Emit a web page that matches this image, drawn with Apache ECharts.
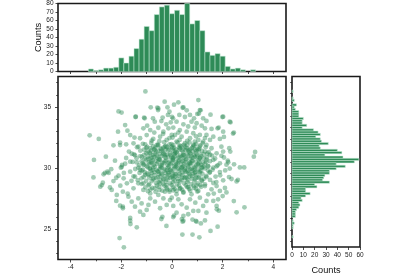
<!DOCTYPE html>
<html><head><meta charset="utf-8">
<script src="https://cdn.jsdelivr.net/npm/echarts@6/dist/echarts.min.js"></script>
<style>html,body{margin:0;padding:0;background:#fff}#c{width:400px;height:280px}</style>
</head><body><div id="c"></div>
<script>
// ---- DATA ----
const histXCenters = [-3.2,-3.0,-2.8,-2.6,-2.4,-2.2,-2.0,-1.8,-1.6,-1.4,-1.2,-1.0,-0.8,-0.6,-0.4,-0.2,0.0,0.2,0.4,0.6,0.8,1.0,1.2,1.4,1.6,1.8,2.0,2.2,2.4,2.6,2.8,3.0,3.2];
const histXCounts  = [3,1,2,4,4,5,16,10,18,27,38,53,48,67,76,78,68,72,67,80,56,60,48,23,19,21,18,6,3,4,2,0,2];
const histYCenters = [36.2,36.0,35.8,35.6,35.4,35.2,35.0,34.8,34.6,34.4,34.2,34.0,33.8,33.6,33.4,33.2,33.0,32.8,32.6,32.4,32.2,32.0,31.8,31.6,31.4,31.2,31.0,30.8,30.6,30.4,30.2,30.0,29.8,29.6,29.4,29.2,29.0,28.8,28.6,28.4,28.2,28.0,27.8,27.6,27.4,27.2,27.0,26.8,26.6,26.4,26.2,26.0,25.8,25.6,25.4,25.2,25.0,24.8,24.6,24.4,24.2,24.0,23.8,23.6,23.4];
const histYCounts  = [1,0,0,1,2,0,4,2,3,6,6,6,10,9,9,13,9,19,23,25,21,25,26,32,24,25,40,44,29,45,59,55,39,47,39,33,33,29,28,27,33,20,22,12,12,16,12,8,9,6,7,6,4,3,3,3,0,1,2,1,1,0,0,0,1];
const binWidth = 0.2;
const xTickLabels = [-4,-2,0,2,4];
const yTickLabels = [25,30,35];
const countTicksTop = [0,10,20,30,40,50,60,70,80];
const countTicksRight = [0,10,20,30,40,50,60];
const points = [
[-1.05,36.28],[-0.29,35.44],[0.08,35.19],[0.25,35.38],[1.04,35.57],[-0.58,34.95],[-0.55,34.75],[-0.84,34.97],[0.45,34.97],[1.10,34.75],[1.0,34.43],[-2.11,34.64],[-1.99,34.54],[-1.43,34.21],[-1.08,34.07],[1.52,34.37],[2.02,34.21],[2.31,33.74],[-1.85,33.52],[-2.13,32.98],[-1.76,33.06],[-3.25,32.68],[-2.89,32.38],[-2.31,31.86],[-2.05,32.08],[-2.05,31.88],[2.44,32.9],[1.8,33.25],[3.28,31.31],[3.23,30.93],[-3.08,30.66],[-2.61,30.93],[-2.55,29.7],[-2.65,29.6],[-3.10,29.23],[-2.77,28.6],[-2.83,28.47],[2.85,30.05],[2.68,30.05],[2.6,29.02],[2.55,28.9],[2.86,26.78],[2.55,26.37],[1.80,25.19],[1.52,24.84],[1.08,24.32],[0.81,24.54],[0.41,24.54],[-2.07,24.26],[-1.90,23.5],[-1.39,25.14],[-1.64,25.41],[-1.65,25.68],[-0.22,25.25],[0.05,25.98],[-0.42,25.82],[-0.38,26.0],[0.97,25.6],[1.14,25.46],[0.42,25.6],[1.36,26.34],[1.77,26.61],[1.85,26.5],[-1.94,26.83],[-2.05,26.91],
[-0.54,34.88],[-0.18,34.97],[-0.1,34.61],[-1.44,34.18],[-1.1,34.13],[-0.75,34.07],[-0.37,34.13],[-0.16,34.35],[0.04,34.07],[-0.68,33.8],[-0.42,33.85],[-0.23,33.58],[-0.05,33.74],
[-1.13,33.25],[-0.98,33.47],[-0.86,33.11],[-0.54,33.3],[-0.34,32.98],[-0.14,33.25],[-1.65,32.7],[-1.48,32.49],[-1.26,32.44],[-1.0,32.7],[-0.74,32.38],[-0.47,32.57],[-0.21,32.3],[-0.01,32.71],[-1.81,31.94],[-1.52,32.02],[-1.33,31.75],[-1.06,31.94],[-0.86,31.62],[-0.6,31.89],[-0.34,31.67],[-0.1,31.94],[-1.98,30.1],[-1.81,30.82],[-1.59,31.17],[-1.65,30.52],[-1.46,31.04],[-1.39,30.46],[-1.19,30.9],[-1.13,30.25],[-0.93,30.74],[-0.8,30.38],[-0.67,31.17],[-0.47,30.68],[-0.28,31.09],[-0.14,30.41],[0.05,30.82],[-0.86,29.96],[-0.41,30.03],[-0.09,29.84],[-1.33,30.03],
[0.42,34.94],[0.58,34.73],[1.13,34.73],[1.06,34.46],[1.23,34.07],[1.99,34.18],[2.28,33.8],[2.41,32.82],[1.84,33.31],[2.02,32.98],[2.05,32.55],[1.89,32.38],[1.63,32.57],[1.5,32.3],[1.36,31.89],[1.56,31.62],[1.95,31.75],[2.26,31.62],[2.02,31.35],[1.76,31.2],[2.05,30.86],[2.22,30.47],[1.89,30.38],[1.63,30.66],
[0.0,34.18],[0.29,34.35],[0.51,34.18],[0.71,34.35],[0.87,34.07],[1.36,33.86],[0.77,33.8],[0.97,33.67],[1.17,33.47],[0.18,33.8],[0.45,33.58],[0.64,33.4],[0.9,33.31],[1.3,33.25],[1.56,33.2],[0.05,33.31],[0.31,33.11],[0.58,32.98],[0.84,32.85],[1.1,32.71],[1.36,32.71],[0.12,32.71],[0.38,32.57],[0.71,32.44],[1.04,32.3],[1.23,32.17],[0.18,32.17],[0.51,32.03],[0.84,31.89],[1.1,31.75],[-0.01,31.75],[0.31,31.62],[0.64,31.49],[0.97,31.4],[1.3,31.35],[1.5,31.08],[0.12,31.2],[0.45,31.08],[0.77,30.95],[1.1,30.82],[1.36,30.68],[0.05,30.68],[0.38,30.55],[0.71,30.41],[1.04,30.27],[1.43,30.14],[1.76,30.14],[2.15,30.27],[0.18,30.14],[0.51,30.0],
[-2.7,29.48],[-2.73,28.8],[-2.02,30.03],[-1.97,30.25],[-2.31,28.93],[-2.11,29.37],[-1.91,29.15],[-2.04,28.55],[-1.78,28.74],[-2.38,28.2],[-2.18,27.79],[-1.94,28.06],[-1.72,27.65],[-1.94,26.7],[-1.65,25.9],[-1.59,27.24],[-1.46,26.83],[-1.26,26.42],[-1.13,26.15],[-1.0,26.56],[-1.33,27.51],[-1.2,27.1],[-0.93,26.97],[-0.86,27.51],[-0.67,27.24],[-0.47,26.7],[-0.21,26.97],[-0.34,27.51],[-0.08,27.37],[-1.52,28.33],[-1.33,28.74],[-1.13,28.2],[-0.93,28.6],[-0.86,27.92],[-0.67,28.33],[-0.54,27.79],[-0.28,28.06],[-0.09,28.2],[-1.65,29.7],[-1.46,29.29],[-1.26,29.84],[-1.06,29.43],[-0.73,29.15],[-0.54,29.7],[-0.34,29.02],[-0.14,29.56],[0.05,29.15],[-1.13,28.74],[-0.47,28.74],[-0.21,28.6],
[2.44,27.29],[1.3,25.7],[0.94,25.66],[0.81,25.77],[0.45,25.68],[0.39,25.81],[0.08,26.1],[1.76,26.89],[1.63,27.3],[1.82,27.43],[1.89,28.12],[1.76,28.52],[2.09,28.36],[2.25,29.26],[2.02,28.99],[2.28,29.95],[1.89,29.67],[1.36,27.3],[1.23,26.89],[1.04,26.48],[0.84,26.48],[0.58,26.75],[0.64,26.21],[0.45,26.07],[0.18,26.34],[0.92,27.16],[0.71,27.43],[0.38,27.02],[0.25,27.43],[0.05,26.89],[1.1,27.57],[1.43,27.84],[1.56,28.25],[1.63,28.77],[1.3,28.52],[1.04,28.12],[0.77,27.84],[0.45,27.98],[0.18,27.84],[-0.01,27.57],[1.36,29.26],[1.5,29.67],[1.17,28.99],[0.97,28.58],[0.64,28.44],[0.31,28.3],[0.05,28.16],[0.9,29.62],[0.58,29.2],[0.25,28.93],[0.05,29.34],[0.71,29.89],[0.38,30.03],[1.17,30.03],[1.63,30.03],
[-1.15,31.98],[-0.82,32.05],[-0.55,31.92],[-0.31,32.12],[-0.02,31.96],[0.22,32.08],[0.47,31.9],[0.69,32.1],[0.95,31.97],[1.21,32.04],
[-1.38,31.7],[-1.02,31.65],[-0.74,31.78],[-0.45,31.6],[-0.2,31.72],[0.08,31.66],[0.35,31.8],[0.58,31.62],[0.83,31.74],[1.07,31.58],[1.33,31.71],
[-1.25,31.42],[-0.96,31.35],[-0.7,31.48],[-0.41,31.38],[-0.15,31.46],[0.12,31.33],[0.4,31.44],[0.66,31.36],[0.91,31.5],[1.18,31.4],[1.45,31.3],
[-1.5,31.12],[-1.1,31.08],[-0.85,31.18],[-0.6,31.02],[-0.33,31.15],[-0.05,31.05],[0.2,31.2],[0.46,31.06],[0.73,31.16],[0.99,31.03],[1.26,31.14],[1.58,31.02],
[-1.4,30.8],[-1.08,30.75],[-0.78,30.86],[-0.52,30.72],[-0.25,30.84],[0.03,30.78],[0.3,30.88],[0.55,30.74],[0.82,30.83],[1.1,30.76],[1.38,30.86],[1.7,30.78],
[-1.55,30.5],[-1.2,30.55],[-0.92,30.46],[-0.65,30.58],[-0.38,30.44],[-0.1,30.53],[0.16,30.47],[0.43,30.57],[0.68,30.43],[0.94,30.52],[1.22,30.45],[1.5,30.56],
[-1.3,30.22],[-1.0,30.15],[-0.72,30.26],[-0.46,30.18],[-0.18,30.24],[0.09,30.16],[0.36,30.27],[0.62,30.2],[0.88,30.12],[1.15,30.25],[1.42,30.18],[1.8,30.22],
[-1.45,29.92],[-1.15,29.86],[-0.88,29.95],[-0.6,29.84],[-0.3,29.93],[-0.04,29.87],[0.24,29.96],[0.5,29.85],[0.77,29.94],[1.03,29.88],[1.3,29.97],[1.6,29.86],
[-1.28,29.6],[-0.98,29.55],[-0.7,29.66],[-0.43,29.58],[-0.15,29.64],[0.13,29.54],[0.4,29.63],[0.66,29.57],[0.92,29.65],[1.2,29.52],[1.48,29.62],
[-1.52,29.32],[-1.12,29.27],[-0.83,29.36],[-0.55,29.25],[-0.28,29.34],[0.0,29.28],[0.27,29.37],[0.53,29.24],[0.8,29.33],[1.08,29.26],[1.35,29.35],[1.72,29.3],
[-1.35,29.0],[-1.02,28.95],[-0.74,29.06],[-0.46,28.97],[-0.18,29.04],[0.1,28.96],[0.38,29.05],[0.64,28.98],[0.91,29.07],[1.18,28.94],[1.5,29.02],
[-1.2,28.7],[-0.9,28.66],[-0.62,28.76],[-0.35,28.68],[-0.07,28.74],[0.2,28.65],[0.48,28.75],[0.75,28.67],[1.02,28.73],[1.3,28.66],
[-1.05,28.42],[-0.78,28.36],[-0.5,28.45],[-0.22,28.38],[0.05,28.44],[0.33,28.35],[0.6,28.43],[0.87,28.37],[1.15,28.46],
[-0.95,28.1],[-0.65,28.05],[-0.38,28.14],[-0.1,28.06],[0.18,28.12],[0.45,28.04],[0.72,28.13],[1.0,28.07],
[-0.88,31.25],[-0.62,31.32],[-0.35,31.28],[-0.08,31.22],[0.18,31.3],[0.44,31.24],[0.7,31.28],[0.95,31.2],
[-0.95,30.95],[-0.7,30.92],[-0.42,30.98],[-0.15,30.9],[0.12,30.97],[0.38,30.93],[0.64,30.99],[0.9,30.91],[1.15,30.96],
[-1.02,30.66],[-0.76,30.62],[-0.5,30.68],[-0.24,30.6],[0.02,30.67],[0.28,30.63],[0.55,30.69],[0.8,30.61],[1.06,30.65],
[-0.88,30.36],[-0.6,30.33],[-0.32,30.39],[-0.05,30.31],[0.22,30.37],[0.49,30.34],[0.76,30.38],[1.02,30.32],[1.3,30.36],
[-0.96,30.06],[-0.74,30.03],[-0.45,30.08],[-0.16,30.02],[0.12,30.07],[0.38,30.04],[0.64,30.09],[0.9,30.01],[1.18,30.06],
[-0.84,29.77],[-0.57,29.73],[-0.3,29.79],[-0.02,29.72],[0.26,29.78],[0.52,29.74],[0.8,29.8],[1.08,29.71],
[-0.94,29.46],[-0.68,29.42],[-0.4,29.48],[-0.12,29.41],[0.15,29.47],[0.42,29.43],[0.7,29.49],[0.96,29.42],
[-0.62,29.15],[-0.34,29.12],[-0.06,29.18],[0.22,29.11],[0.5,29.17],[0.78,29.13],[1.05,29.18],
[-0.52,28.85],[-0.24,28.88],[0.04,28.83],[0.32,28.89],[0.6,28.84],[0.88,28.9],
[-0.7,31.55],[-0.42,31.52],[-0.12,31.58],[0.15,31.51],[0.45,31.57],[0.72,31.53],[1.0,31.56],
[-0.55,31.85],[-0.25,31.82],[0.05,31.88],[0.32,31.84],[0.6,31.87],[0.88,31.83],
[1.9,29.4],[2.1,29.8],[2.2,30.6],[1.95,31.0],[2.35,29.1],[1.75,28.85],[2.15,28.0],[2.0,27.7],[1.65,27.9],[2.45,30.3],[2.3,31.35],
[-1.85,30.35],[-2.25,30.6],[-1.7,31.35],[-2.4,29.9],[-1.9,29.6],[-2.2,29.2],[-1.6,28.95],[-2.45,28.4],[-1.75,27.9],[-2.2,27.3],[-2.5,29.6],
[-0.98,31.72],[-0.66,31.66],[-0.28,31.74],[0.02,31.62],[0.28,31.7],[0.52,31.76],[0.78,31.64],[1.12,31.86],
[-1.1,31.5],[-0.82,31.44],[-0.55,31.4],[-0.26,31.5],[0.03,31.42],[0.3,31.48],[0.55,31.45],[0.82,31.38],[1.05,31.45],
[-1.02,31.22],[-0.75,31.06],[-0.48,31.12],[-0.2,31.1],[0.08,31.12],[0.33,31.02],[0.6,31.1],[0.86,31.08],[1.12,31.1],[1.4,31.18],
[-1.25,30.98],[-0.85,30.8],[-0.58,30.85],[-0.3,30.94],[-0.02,30.9],[0.22,30.82],[0.48,30.86],[0.72,30.76],[0.98,30.88],[1.25,30.8],
[-1.15,30.4],[-0.82,30.52],[-0.55,30.48],[-0.28,30.55],[0.0,30.42],[0.26,30.52],[0.54,30.46],[0.8,30.55],[1.08,30.44],[1.35,30.5],
[-1.1,30.3],[-0.68,30.12],[-0.4,30.25],[-0.12,30.14],[0.16,30.28],[0.44,30.14],[0.7,30.3],[0.96,30.2],[1.25,30.1],
[-1.2,29.78],[-0.75,29.85],[-0.48,29.9],[-0.2,29.82],[0.08,29.92],[0.34,29.86],[0.62,29.78],[0.88,29.84],[1.15,29.78],[1.42,29.8],
[-1.08,29.65],[-0.8,29.58],[-0.52,29.5],[-0.26,29.6],[0.02,29.56],[0.3,29.5],[0.56,29.66],[0.82,29.52],[1.1,29.62],
[-1.2,29.15],[-0.9,29.22],[-0.45,29.3],[-0.18,29.22],[0.12,29.3],[0.4,29.2],[0.68,29.3],[0.95,29.22],[1.25,29.12],
[-0.8,28.92],[-0.6,28.55],[-0.3,28.55],[-0.02,28.6],[0.28,28.55],[0.55,28.58],[0.85,28.55],[1.12,28.6],
[-0.85,28.25],[-0.5,28.2],[-0.2,28.25],[0.1,28.3],[0.4,28.22],[0.68,28.28],[0.95,28.3],
[-0.8,32.25],[-0.5,32.2],[-0.1,32.45],[0.3,32.3],[0.6,32.22],[0.9,32.15],[0.02,32.5],[-0.35,32.8],[0.25,32.9],[0.95,32.6],[-0.7,32.9],[1.3,32.45]
];

// ---- CHART ----
const GREEN = '#2E8B57';
const FONT = 'Liberation Sans';
const txt = {color:'#222', fontFamily:FONT, fontSize:6.5};
const frame = {show:true, borderColor:'#1a1a1a', borderWidth:1.6, backgroundColor:'transparent'};
const range = (a,b,s)=>{const r=[];for(let v=a;v<=b+1e-9;v+=s)r.push(+v.toFixed(6));return r;};

function hAxis(grid, min, max, opts){
  return Object.assign({type:'value', gridIndex:grid, min, max, position:'bottom',
    axisLine:{show:false, onZero:false}, splitLine:{show:false}, axisLabel:{show:false}, axisTick:{show:false}}, opts);
}
function vAxis(grid, min, max, opts){
  return Object.assign({type:'value', gridIndex:grid, min, max, position:'left',
    axisLine:{show:false, onZero:false}, splitLine:{show:false}, axisLabel:{show:false}, axisTick:{show:false}}, opts);
}
const tick = (vals,len)=>({show:true, inside:false, length:len, customValues:vals, lineStyle:{color:'#222', width:0.8}});
const nameStyle = {color:'#111', fontFamily:FONT, fontSize:9.2};

const chart = echarts.init(document.getElementById('c'), null, {renderer:'canvas'});
chart.setOption({
  animation:false,
  grid:[
    Object.assign({left:58, top:2.5, width:228, height:69}, frame),
    Object.assign({left:58, top:76.5, width:228, height:183}, frame),
    Object.assign({left:292, top:76.5, width:68, height:183}, frame)
  ],
  xAxis:[
    hAxis(0,-4.5,4.5,{axisTick:tick(range(-4,4,1),2.5)}),
    hAxis(1,-4.5,4.5,{axisTick:tick(xTickLabels,3), axisLabel:Object.assign({show:true, margin:4.5, customValues:xTickLabels}, txt)}),
    hAxis(1,-4.5,4.5,{axisTick:tick(range(-3,3,2),1.8)}),
    hAxis(2,0,60,{axisTick:tick(countTicksRight,3), axisLabel:Object.assign({show:true, margin:4.5, customValues:countTicksRight}, txt),
      name:'Counts', nameLocation:'middle', nameGap:14, nameMoveOverlap:false,
      nameTextStyle:Object.assign({padding:[5,0,0,0], verticalAlign:'top'}, nameStyle)})
  ],
  yAxis:[
    vAxis(0,0,80,{axisTick:tick(countTicksTop,2.5), axisLabel:Object.assign({show:true, margin:4.5, customValues:countTicksTop}, txt),
      name:'Counts', nameLocation:'middle', nameGap:15.5, nameMoveOverlap:false, nameTextStyle:nameStyle}),
    vAxis(1,22.5,37.5,{axisTick:tick(yTickLabels,3), axisLabel:Object.assign({show:true, margin:7, customValues:yTickLabels}, txt)}),
    vAxis(1,22.5,37.5,{axisTick:tick(range(23,37,1).filter(v=>v%5!==0),1.8)}),
    vAxis(2,22.5,37.5,{axisTick:tick(range(23,37,1),1.8)})
  ],
  series:[
    {type:'custom', xAxisIndex:0, yAxisIndex:0,
     data: histXCenters.map((c,i)=>[c, histXCounts[i]]),
     encode:{x:0,y:1},
     renderItem:(params, api)=>{
       const c=api.value(0), n=api.value(1);
       if(!n) return null;
       const p0=api.coord([c-binWidth/2, n]), p1=api.coord([c+binWidth/2, 0]);
       return {type:'rect', shape:{x:p0[0], y:p0[1], width:p1[0]-p0[0], height:p1[1]-p0[1]},
         style:{fill:GREEN, stroke:'rgba(200,235,215,0.9)', lineWidth:0.6}};
     }},
    {type:'custom', xAxisIndex:3, yAxisIndex:3,
     data: histYCenters.map((c,i)=>[c, histYCounts[i]]),
     encode:{x:1,y:0},
     renderItem:(params, api)=>{
       const c=api.value(0), n=api.value(1);
       if(!n) return null;
       const p0=api.coord([0, c+binWidth/2]), p1=api.coord([n, c-binWidth/2]);
       return {type:'rect', shape:{x:p0[0], y:p0[1], width:p1[0]-p0[0], height:p1[1]-p0[1]},
         style:{fill:GREEN, stroke:'rgba(200,235,215,0.9)', lineWidth:0.6}};
     }},
    {type:'scatter', xAxisIndex:1, yAxisIndex:1, data:points, symbolSize:4.8,
     itemStyle:{color:'rgba(46,139,87,0.55)'}, silent:true}
  ]
});
</script></body></html>
